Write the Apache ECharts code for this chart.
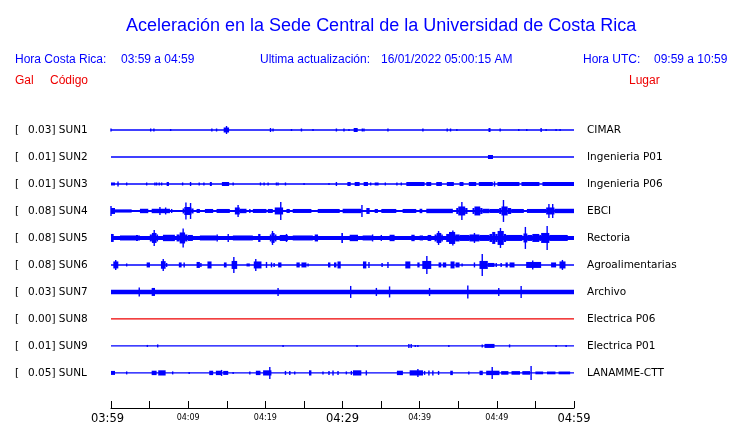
<!DOCTYPE html>
<html><head><meta charset="utf-8">
<script src="https://cdn.jsdelivr.net/npm/echarts@6/dist/echarts.min.js"></script>
<style>html,body{margin:0;padding:0;background:#fff}#c{width:740px;height:423px}</style>
</head><body><div id="c"></div>
<script>
// ---- data ----
const titleText = 'Aceleración en la Sede Central de la Universidad de Costa Rica';
const stationCodes = ['SUN1','SUN2','SUN3','SUN4','SUN5','SUN6','SUN7','SUN8','SUN9','SUNL'];
const peakGal = ['0.03','0.01','0.01','0.08','0.08','0.08','0.03','0.00','0.01','0.05'];
const places = ['CIMAR','Ingenieria P01','Ingenieria P06','EBCI','Rectoria','Agroalimentarias','Archivo','Electrica P06','Electrica P01','LANAMME-CTT'];
// continuous background noise half-amplitude (trace units)
const baseNoise = [0.65, 0.7, 0.8, 1.0, 2.0, 0.7, 2.2, 0.6, 0.65, 0.7];
// time axis: minutes after 03:59, labels every 10 minutes
const timeLabels = ['03:59','04:09','04:19','04:29','04:39','04:49','04:59'];
// events: [startMinute, endMinute, halfAmplitude]
const evSUN1 = [[0,0,1.5],[5.14,5.14,1.5],[5.56,5.56,1.5],[7.73,7.73,1],[13.07,13.07,1.5],[13.68,13.68,1.5],[14.6,15.3,2.5],[14.97,14.97,4],[20.67,20.67,2],[21.0,21.0,1.5],[23.39,23.39,1],[24.68,24.68,1.5],[26.18,26.18,1],[29.21,29.21,1.5],[30.19,30.19,1.5],[30.84,30.84,1],[31.45,31.97,2],[32.57,32.57,1.5],[32.78,32.78,1.5],[35.89,35.89,1.5],[40.42,40.42,1.5],[43.57,43.57,1.5],[44.0,44.0,1.5],[44.82,44.82,1],[48.92,49.18,2],[50.43,50.43,1.5],[52.84,52.84,1],[53.88,53.88,1],[55.74,55.74,2],[56.39,56.39,1],[57.68,57.68,1],[58.2,58.2,1]];
const evSUN2 = [[48.85,49.5,2]];
const evSUN3 = [[0,0.52,1.5],[0.82,1.0,2.5],[2.03,2.03,1.5],[4.62,4.62,1.5],[5.69,5.69,1.5],[5.91,5.91,1.5],[6.25,6.25,1.5],[6.56,6.56,1.5],[7.21,7.51,2],[9.28,9.28,1.5],[10.31,10.31,2],[11.43,11.43,1.5],[12.04,12.04,1.5],[12.81,13.07,2],[14.37,15.31,2],[15.83,15.83,1.5],[19.37,19.37,1.5],[19.84,19.84,1.5],[20.36,20.36,1.5],[21.44,21.44,1.5],[21.65,21.65,1.5],[22.61,22.61,1.5],[25.02,25.02,1],[28.25,28.25,1],[29.21,29.21,2],[30.63,31.06,2],[31.58,32.22,2],[32.74,33.3,2],[33.65,33.65,1.5],[34.17,34.68,1.5],[35.55,35.55,1.5],[37.05,37.05,1.5],[37.62,37.62,1.5],[38.27,40.64,2],[40.86,41.5,2],[42.15,42.88,2],[43.52,44.43,2],[45.17,45.68,2],[46.37,47.33,2],[47.66,49.48,2],[49.7,49.7,2.5],[50.08,52.93,2],[53.19,55.52,2],[55.91,60,2]];
const evSUN4 = [[0,0.52,3],[0,0,5],[0.52,2.68,1.6],[3.75,4.83,2.2],[5.27,7.64,2.2],[6.34,6.34,4],[7.08,7.08,3.5],[7.86,7.86,2],
  [9.28,9.5,2.5],[9.5,10.4,4],[9.71,9.71,8.5],[10.31,10.31,8],[10.4,10.7,2.5],
  [11.09,11.52,2],[12.17,13.24,2],[13.68,15.4,2],[16.05,16.69,3.5],[16.47,16.47,6],[16.69,17.56,2.2],[17.99,17.99,2],[18.38,20.15,2],[20.32,20.97,2],[21.22,22.3,3.5],[22.0,22.0,9],[22.74,23.17,2],[23.55,25.97,2],[26.79,29.64,2],[30.02,32.44,2.2],[32.52,32.52,6],[33.09,33.52,3],[34.17,34.59,2],[35.03,36.97,2],[37.79,39.56,2],[39.99,40.34,2.2],[40.86,44.3,2.2],
  [44.74,45.0,3],[45.0,45.9,4.5],[45.47,45.47,9],[45.9,46.2,3],
  [46.85,47.1,3],[47.1,47.85,4.5],[47.85,48.14,3],[48.14,49.05,2.2],[49.05,50.3,2],
  [50.3,50.6,3],[50.6,51.4,4.5],[50.86,50.86,11],[51.4,51.86,3],
  [51.86,53.5,2],[53.9,56.39,2],[56.39,57.46,3.5],[56.75,56.75,7],[57.24,57.24,7],[57.46,60,2.2]];
const evSUN5 = [[0,0.35,4],[1.16,3.75,2.5],[3.24,3.49,3],
  [5.03,5.3,3.5],[5.3,5.9,5],[5.6,5.6,8],[5.9,6.1,3.5],
  [6.73,8.28,3.2],
  [8.5,8.9,3.5],[8.9,9.6,5.5],[9.35,9.35,9.5],[9.6,9.9,3.5],
  [9.97,10.61,3],[11.52,13.68,2.5],[13.76,13.76,3.5],[15.19,15.19,4],[15.79,18.38,2.5],[19.07,19.37,4],
  [20.58,20.8,3.5],[20.8,21.2,5],[20.93,20.93,7],[21.2,21.44,3.5],
  [21.87,22.91,3],[22.74,22.74,4],[23.55,26.15,2.5],[26.4,26.83,3.5],[29.85,30.06,5],[30.93,32.01,3.2],[32.61,33.9,2.5],[33.9,33.9,3.5],[35.03,35.03,3],[36.1,36.75,3.2],[38.92,39.35,3.2],[40.0,40.43,2.5],[41.03,41.5,3],
  [41.93,42.2,3.5],[42.2,42.8,5],[42.45,42.45,7],[42.8,43.0,3.5],
  [43.44,43.8,4],[43.8,44.6,6],[44.3,44.3,7.5],[44.6,45.17,3.5],
  [45.17,46.46,3],[46.46,47.75,3.5],[47.1,47.1,5],[47.75,49.05,3],
  [49.05,49.4,4],[49.4,49.8,6],[49.8,50.1,4],[50.1,50.9,7],[50.47,50.47,10],[50.9,51.2,4],
  [51.2,53.31,3],[53.45,53.95,4.5],[53.7,53.7,11],[53.95,54.6,3],
  [54.6,55.5,4],[55.5,55.74,3],[55.74,56.8,5],[56.52,56.52,12],[56.8,59.19,3]];
const evSUN6 = [[0.3,0.95,3.5],[0.61,0.61,5],[2.03,2.03,1.5],[4.62,5.05,2.5],[6.47,7.08,3.8],[6.77,6.77,6],[7.21,7.21,2],[8.79,9.15,2.5],[9.48,9.48,2.5],[11.09,11.52,3],[11.65,11.65,2],[12.5,13.03,3.5],[14.63,14.98,2.5],[15.63,16.35,4],[15.92,15.92,8],[17.56,17.99,1.5],[18.5,19.5,3.5],[18.76,18.76,6],[20.15,20.15,3],[20.8,20.8,2.5],[21.14,21.14,2],[21.66,22.09,2.5],[24.03,24.46,2.5],[24.68,25.33,2.5],[25.54,25.54,1.5],[28.12,28.43,2.5],[28.9,29.21,2.5],[29.35,29.77,3.5],[32.65,33.09,3.5],[33.43,33.43,3],[35.13,35.13,2],[35.89,35.89,3],[38.14,38.79,3.5],[39.7,39.99,2.5],[40.34,41.5,4],[40.93,40.93,9],[42.45,42.8,2.5],[43.0,43.44,2.5],[44.0,44.52,3.5],[44.65,45.17,2.5],[45.5,45.5,1.5],[47.1,47.1,2.5],[47.75,48.83,4],[48.11,48.11,11],[48.83,49.7,2],[49.92,49.92,2],[50.56,50.56,2],[51.13,51.42,2.5],[51.65,52.29,2.5],[53.8,55.74,3],[54.65,54.65,4.5],[57.03,57.68,2.5],[58.12,58.9,3.5],[58.5,58.5,5]];
const evSUN7 = [[3.66,3.66,4.5],[5.27,5.7,4],[21.65,21.65,4],[31.06,31.06,6],[34.39,34.39,4],[36.1,36.1,5.5],[41.28,41.28,4],[46.24,46.24,6.5],[50.25,50.25,4],[53.15,53.15,6]];
const evSUN8 = [];
const evSUN9 = [[4.71,4.71,1],[6.05,6.05,1.5],[22.3,22.3,1],[31.88,31.88,1],[38.6,38.6,2],[38.9,38.9,2],[39.43,39.43,1],[39.77,39.77,1],[43.78,43.78,1],[48.11,48.11,1.5],[48.4,49.7,2],[51.65,51.65,1.5],[57.68,57.68,1],[58.98,58.98,1]];
const evSUNL = [[0,0.52,2],[2.03,2.03,1.5],[5.27,5.91,2.2],[6.12,7.08,2.6],[7.99,7.99,1.5],[10.13,10.13,1],[12.73,13.24,2.2],[13.59,14.33,2.2],[14.33,14.33,3],[14.54,15.19,2],[15.83,15.83,1],[17.99,17.99,1.5],[18.77,19.37,2.2],[19.71,20.79,2.6],[20.58,20.58,6],[22.61,22.61,2],[23.17,23.17,2],[23.81,23.81,1.5],[25.66,25.97,2.6],[27.47,27.47,1.5],[28.25,28.25,2],[28.77,28.77,2.5],[29.42,29.42,2],[30.5,30.5,1.5],[31.15,31.15,2],[31.36,32.44,2.6],[33.09,33.09,2.5],[37.05,37.83,2.2],[38.7,40.43,2.6],[39.77,39.77,4],[40.64,40.64,2],[41.2,41.2,2.5],[41.71,41.71,2.5],[42.45,42.45,2],[43.96,44.3,2.2],[46.37,46.37,1.5],[47.75,48.18,2.2],[48.62,50.34,2.2],[49.4,49.4,6],[50.56,51.5,1.8],[51.9,53.0,1.8],[53.3,54.3,1.8],[54.44,54.44,7],[55.0,56.0,1.4],[56.5,57.6,1.4],[58.0,59.5,1.4]];
const stationEvents = [evSUN1,evSUN2,evSUN3,evSUN4,evSUN5,evSUN6,evSUN7,evSUN8,evSUN9,evSUNL];

// ---- presentation ----
const TRACE_UNITS_PER_ROW = 27;
const BLUE = '#0000ff', RED = '#ee0000';
const traceColor = i => stationCodes[i] === 'SUN8' ? RED : BLUE;
const labelFont = '10.5px "DejaVu Sans"';

function drawSegment(api, color, minW) {
  const t0 = api.value(0), t1 = api.value(1), a = api.value(2), row = api.value(3);
  const p0 = api.coord([t0, row]);
  const p1 = api.coord([t1, row]);
  const h = Math.max(api.size([0, a / TRACE_UNITS_PER_ROW])[1], 0.6);
  let w = p1[0] - p0[0];
  let x = p0[0];
  if (w < minW) { x = x - (minW - w) / 2; w = minW; }
  return {type: 'rect', shape: {x: x, y: p0[1] - h, width: w, height: 2 * h}, style: {fill: color}};
}

const series = [];
// baselines + station labels
series.push({
  type: 'custom', silent: true, z: 2,
  data: stationCodes.map((c, i) => [0, 60, baseNoise[i], i]),
  renderItem: (params, api) => {
    const i = params.dataIndex;
    const seg = drawSegment(api, traceColor(i), 1);
    const pL = api.coord([0, api.value(3)]);
    const pR = api.coord([60, api.value(3)]);
    return {type: 'group', children: [
      seg,
      {type: 'text', style: {text: '[', x: 15, y: pL[1] + 0.5, font: labelFont, fill: '#000', verticalAlign: 'middle'}},
      {type: 'text', style: {text: peakGal[i] + '] ' + stationCodes[i], x: 28, y: pL[1] + 0.5, font: labelFont, fill: '#000', verticalAlign: 'middle'}},
      {type: 'text', style: {text: places[i], x: pR[0] + 13, y: pR[1] + 0.5, font: labelFont, fill: '#000', verticalAlign: 'middle'}}
    ]};
  }
});
stationEvents.forEach((evs, i) => {
  series.push({
    type: 'custom', silent: true, z: 3,
    data: evs.map(e => [e[0], e[1], e[2], i]),
    renderItem: (params, api) => drawSegment(api, traceColor(i), 1.4)
  });
});

const hdr = (text, x, y, color) => ({type: 'text', x: x, y: y, style: {text: text, font: '12px "Liberation Sans"', fill: color, verticalAlign: 'middle'}});

const chart = echarts.init(document.getElementById('c'), null, {renderer: 'canvas'});
chart.setOption({
  animation: false,
  backgroundColor: '#fff',
  title: {text: titleText, left: 121, top: 12, textStyle: {color: BLUE, fontSize: 18, fontWeight: 'normal', fontFamily: 'Liberation Sans'}},
  grid: {left: 111, right: 166, top: 116.5, bottom: 15, containLabel: false, outerBoundsMode: 'none'},
  xAxis: {
    type: 'value', min: 0, max: 60, interval: 5, position: 'bottom',
    axisLine: {show: true, onZero: false, lineStyle: {color: '#000', width: 1}},
    axisTick: {show: true, inside: true, length: 7, lineStyle: {color: '#000', width: 1}},
    splitLine: {show: false},
    axisLabel: {
      margin: 5, verticalAlign: 'top', showMinLabel: true, showMaxLabel: true, hideOverlap: false,
      formatter: v => {
        if (v % 10 !== 0) return '';
        const s = timeLabels[v / 10];
        if (v === 0) return '{b0|' + s + '}';
        return (v % 30 === 0 ? '{b|' : '{s|') + s + '}';
      },
      rich: {
        b0: {fontSize: 11.5, fontFamily: 'DejaVu Sans', color: '#000', padding: [0.5, 7, 0, 0]},
        b: {fontSize: 11.5, fontFamily: 'DejaVu Sans', color: '#000', padding: [0.5, 0, 0, 0]},
        s: {fontSize: 8, fontFamily: 'DejaVu Sans', color: '#000', padding: [0.5, 0, 0, 0]}
      }
    }
  },
  yAxis: {type: 'value', min: -0.5, max: 10.3, inverse: true, show: false},
  graphic: [
    hdr('Hora Costa Rica:', 15, 60, BLUE),
    hdr('03:59 a 04:59', 121, 60, BLUE),
    hdr('Ultima actualización:', 260, 60, BLUE),
    hdr('16/01/2022 05:00:15 AM', 381, 60, BLUE),
    hdr('Hora UTC:', 583, 60, BLUE),
    hdr('09:59 a 10:59', 654, 60, BLUE),
    hdr('Gal', 15, 81, RED),
    hdr('Código', 50, 81, RED),
    hdr('Lugar', 629, 81, RED)
  ],
  series: series
});
</script>
</body></html>
